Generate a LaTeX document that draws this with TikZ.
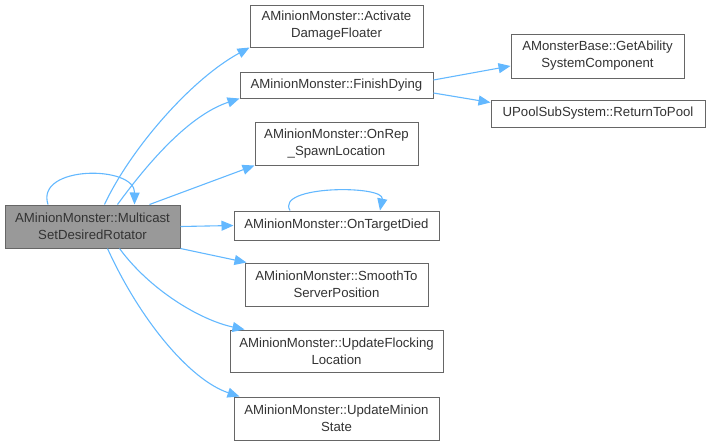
\documentclass[tikz,border=0pt]{standalone}
\usepackage{fontspec}
\setmainfont{Liberation Sans}
\usetikzlibrary{arrows.meta,positioning,calc}
\definecolor{edgeblue}{HTML}{63B8FF}
\definecolor{boxline}{HTML}{666666}
\definecolor{mainfill}{HTML}{999999}
\tikzset{
  fn/.style={draw=boxline, fill=white, align=center, inner sep=0pt,
    font=\fontsize{13.2pt}{17pt}\selectfont, text=black!80, line width=1pt},
  mainfn/.style={fn, fill=mainfill},
  call/.style={draw=edgeblue, line width=1.1pt,
    -{Triangle[length=12pt,width=10pt]}},
}
\begin{document}
\begin{tikzpicture}[x=1pt,y=-1pt]
\useasboundingbox (0,0) rectangle (710,445);
% caller
\node[mainfn, minimum width=175pt, minimum height=43pt] (multi) at (92.5,226.5)
  {AMinionMonster::Multicast\\SetDesiredRotator};
% callees
\node[fn, minimum width=173pt, minimum height=42pt] (adf) at (336.5,26)
  {AMinionMonster::Activate\\DamageFloater};
\node[fn, minimum width=193pt, minimum height=26pt] (fdy) at (336.5,85)
  {AMinionMonster::FinishDying};
\node[fn, minimum width=163pt, minimum height=43pt] (orep) at (336.5,143.5)
  {AMinionMonster::OnRep\\\_SpawnLocation};
\node[fn, minimum width=205pt, minimum height=29pt] (otd) at (336.5,225.5)
  {AMinionMonster::OnTargetDied};
\node[fn, minimum width=183pt, minimum height=43pt] (sts) at (336.5,284.5)
  {AMinionMonster::SmoothTo\\ServerPosition};
\node[fn, minimum width=213pt, minimum height=42pt] (ufl) at (336.5,351)
  {AMinionMonster::UpdateFlocking\\Location};
\node[fn, minimum width=205pt, minimum height=43pt] (ums) at (336.5,418.5)
  {AMinionMonster::UpdateMinion\\State};
\node[fn, minimum width=173pt, minimum height=44pt] (gasc) at (597.5,56)
  {AMonsterBase::GetAbility\\SystemComponent};
\node[fn, minimum width=214pt, minimum height=27pt] (rtp) at (598,113.5)
  {UPoolSubSystem::ReturnToPool};

% edges
\draw[call] ([xshift=-44.5pt]multi.north) .. controls (35,165) and (135,165) .. ([xshift=42pt]multi.north);
\draw[call] ([xshift=12pt]multi.north) .. controls (130,150) and (190,80) .. (adf.south west);
\draw[call] ([xshift=25pt]multi.north) .. controls (150,160) and (190,115) .. (fdy.south west);
\draw[call] ([xshift=57pt]multi.north) -- (orep.south west);
\draw[call] (multi.east) -- (otd.west);
\draw[call] (multi.south east) -- ([xshift=2pt]sts.north west);
\draw[call] ([xshift=27pt]multi.south) .. controls (150,290) and (200,320) .. ([xshift=15pt]ufl.north west);
\draw[call] ([xshift=15pt]multi.south) .. controls (140,320) and (190,380) .. ([xshift=6pt]ums.north west);
\draw[call] ([xshift=-46.5pt]otd.north) .. controls (275,185) and (385,185) .. ([xshift=43.5pt]otd.north);
\draw[call] ([yshift=5pt]fdy.east) -- ([yshift=-10pt]gasc.west);
\draw[call] ([yshift=-8pt]fdy.east) -- ([yshift=-3pt]rtp.north west);
\end{tikzpicture}
\end{document}
